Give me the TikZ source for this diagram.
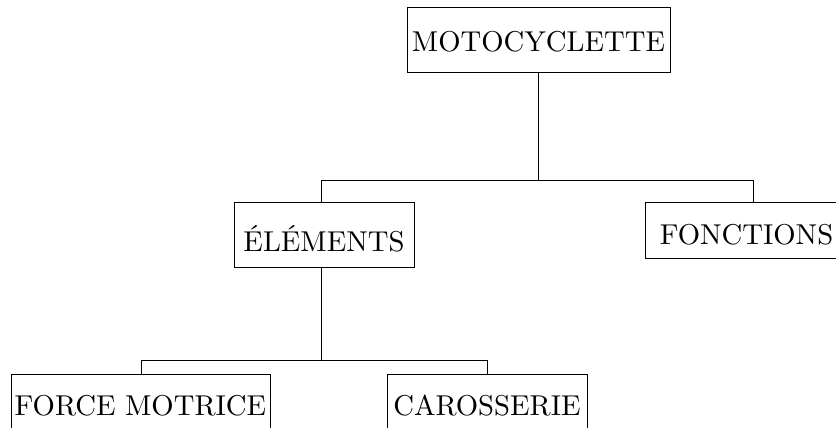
\documentclass[tikz,border=0pt]{standalone}
\begin{document}
\begin{tikzpicture}[scale=2.87, transform shape, x=0.34843pt, y=-0.34843pt,
  box/.style={draw, line width=0.35pt, inner sep=0pt, align=center},
  link/.style={line width=0.35pt}]
\useasboundingbox (0,0) rectangle (836,428);
\node[box, minimum width=91.64pt, text height=15.68pt, text depth=6.97pt] (moto) at (538.5,39.5) {MOTOCYCLETTE};
\node[box, minimum width=62.72pt, text height=17.42pt, text depth=5.23pt] (elem) at (324,234.5) {ÉLÉMENTS};
\node[box, minimum width=70.73pt, text height=14.98pt, text depth=4.53pt] (fonc) at (746.5,230) {FONCTIONS};
\node[box, minimum width=90.24pt, text height=14.63pt, text depth=4.88pt] (force) at (140.5,402) {FORCE MOTRICE};
\node[box, minimum width=69.69pt, text height=14.63pt, text depth=4.88pt] (caro) at (487,402) {CAROSSERIE};
\coordinate (j1) at (538.5,180);
\coordinate (ja) at (321,180);
\coordinate (jb) at (753,180);
\coordinate (j2) at (321,360);
\coordinate (jc) at (141,360);
\coordinate (jd) at (487,360);
\draw[link] (moto.south) -- (j1);
\draw[link] (ja |- elem.north) -- (ja) -- (jb) -- (jb |- fonc.north);
\draw[link] (j2 |- elem.south) -- (j2);
\draw[link] (jc |- force.north) -- (jc) -- (jd) -- (jd |- caro.north);
\end{tikzpicture}
\end{document}
